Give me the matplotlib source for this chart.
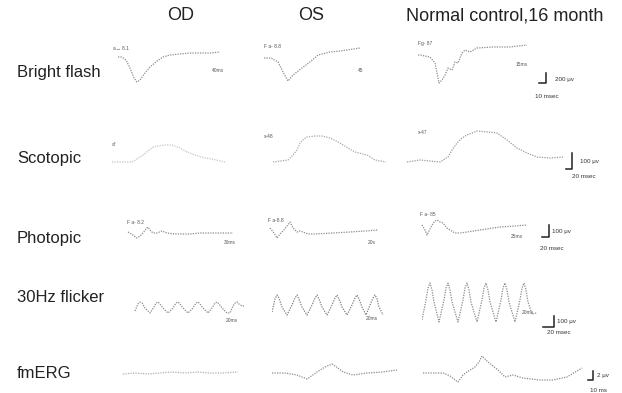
import matplotlib
matplotlib.use("Agg")
import matplotlib.pyplot as plt

# ERG traces: t in ms from trace start, amplitude relative to baseline
bright_od_t = [0, 4, 8, 12, 16, 19, 22, 27, 32, 39, 45, 52, 62, 72, 82, 92, 102]
bright_od_amp = [0, 0, -3, -11, -21, -25, -23, -16, -10, -4, 0, 2, 3, 4, 4, 4, 5]
bright_os_t = [0, 7, 14, 19, 24, 29, 38, 46, 54, 66, 76, 96]
bright_os_amp = [0, 0, -4, -14, -23, -17, -10, -4, 3, 6, 7, 10]
bright_nc_t = [0, 2, 12, 17, 21, 24, 27, 30, 34, 37, 40, 44, 47, 52, 59, 75, 92, 109]
bright_nc_amp = [0, 0, -2, -8, -28, -25, -20, -13, -15, -7, -8, 2, 5, 3, 7, 8, 8, 10]

scot_od_t = [0, 8, 20, 25, 31, 36, 41, 46, 53, 60, 68, 73, 83, 93, 100, 113]
scot_od_amp = [0, 0, 0, 3, 7, 11, 15, 16, 17, 17, 14, 11, 7, 4, 3, 0]
scot_os_t = [1, 16, 21, 25, 28, 32, 35, 43, 50, 58, 68, 76, 83, 95, 103, 114]
scot_os_amp = [0, 2, 7, 12, 19, 23, 25, 26, 26, 24, 19, 14, 10, 7, 2, 0]
scot_nc_t = [2, 15, 25, 35, 43, 47, 52, 57, 62, 72, 83, 92, 102, 112, 122, 132, 145, 158]
scot_nc_amp = [-1, 1, 0, -1, 4, 11, 18, 23, 26, 30, 29, 28, 21, 13, 8, 4, 3, 4]

phot_od_t = [1, 6, 10, 13, 16, 19, 21, 23, 26, 30, 35, 40, 48, 63, 73, 88, 106]
phot_od_amp = [1, -2, -5, -3, 0, 4, 6, 3, 0, 0, 2, 0, -1, -1, 0, 0, 0]
phot_os_t = [2, 6, 9, 12, 15, 19, 22, 25, 29, 32, 35, 40, 47, 65, 82, 97, 110]
phot_os_amp = [5, 0, -5, -1, 2, 7, 11, 5, 1, 2, 1, -1, -1, 0, 1, 2, 3]
phot_nc_t = [1, 4, 6, 9, 11, 14, 16, 19, 22, 26, 29, 34, 39, 46, 59, 79, 94, 106]
phot_nc_amp = [5, 0, -5, 1, 5, 9, 10, 8, 7, 2, 0, -3, -3, -2, 0, 3, 4, 5]

flick_od_t = [1, 4, 6, 8, 11, 16, 20, 22, 24, 26, 29, 34, 39, 42, 44, 46, 49, 54, 59, 62,
              64, 66, 69, 74, 78, 81, 83, 85, 88, 93, 96, 99, 101, 103, 105, 108, 110]
flick_od_amp = [2, 9, 11, 10, 5, 0, 6, 10, 11, 9, 5, 0, 5, 10, 11, 9, 5, 0, 5, 10,
                11, 9, 5, 0, 5, 10, 11, 9, 5, 0, 0, 7, 10, 11, 9, 7, 7]
flick_os_t = [0, 3, 5, 7, 10, 15, 20, 23, 25, 27, 30, 35, 40, 43, 45, 47, 50, 55, 60, 63,
              65, 67, 70, 75, 80, 83, 85, 87, 90, 94, 98, 101, 103, 105, 107, 111]
flick_os_amp = [3, 16, 20, 17, 8, 0, 10, 17, 20, 16, 8, 0, 10, 17, 20, 16, 8, 0, 10, 17,
                20, 16, 8, 0, 10, 17, 20, 16, 8, 0, 10, 17, 20, 16, 8, 0]
flick_nc_t = [0, 4, 6, 8, 10, 12, 17, 22, 24, 26, 28, 30, 36, 41, 43, 45, 47, 49, 55, 60,
              62, 64, 66, 68, 74, 79, 81, 83, 85, 87, 93, 98, 100, 102, 104, 106, 110, 115]
flick_nc_amp = [2, 22, 34, 39, 32, 20, 0, 22, 34, 39, 32, 20, 0, 22, 34, 39, 32, 20, 0, 22,
                34, 39, 32, 20, 0, 22, 34, 39, 32, 20, 0, 22, 34, 39, 32, 20, 8, 9]

fm_od_t = [0, 12, 25, 37, 49, 62, 75, 87, 99, 115]
fm_od_amp = [0, 1, 0, 1, 2, 1, 2, 1, 1, 2]
fm_os_t = [0, 13, 25, 35, 45, 53, 60, 66, 71, 81, 95, 111, 125]
fm_os_amp = [0, 0, -2, -6, 1, 6, 9, 5, 1, -2, 0, 1, 3]
fm_nc_t = [0, 20, 27, 35, 40, 44, 52, 56, 59, 62, 65, 70, 75, 82, 90, 100, 117, 130, 144, 159]
fm_nc_amp = [0, 0, -3, -9, -2, 1, 6, 11, 17, 14, 11, 7, 3, -4, -2, -5, -7, -7, -4, 5]

col_titles = ["OD", "OS", "Normal control,16 month"]
row_labels = ["Bright flash", "Scotopic", "Photopic", "30Hz flicker", "fmERG"]
bar_amp_labels = ["200 μv", "100 μv", "100 μv", "100 μv", "2 μv"]
bar_time_labels = ["10 msec", "20 msec", "20 msec", "20 msec", "10 ms"]

W, H = 622, 393
fig = plt.figure(figsize=(W / 100, H / 100), dpi=100)
plt.rcParams['font.family'] = ['Liberation Sans', 'DejaVu Sans']

# overlay in pixel coords for text and scale bars
ov = fig.add_axes([0, 0, 1, 1])
ov.set_xlim(0, W)
ov.set_ylim(H, 0)
ov.axis('off')


def trace_axes(x0, base_y, span=180, half=45):
    ax = fig.add_axes([x0 / W, 1 - (base_y + half) / H, span / W, 2 * half / H])
    ax.set_xlim(0, span)
    ax.set_ylim(-half, half)
    ax.axis('off')
    return ax


panels = [
    (118, 57, bright_od_t, bright_od_amp, '#8c8c8c'),
    (264, 58, bright_os_t, bright_os_amp, '#8c8c8c'),
    (418, 55, bright_nc_t, bright_nc_amp, '#8c8c8c'),
    (112, 162, scot_od_t, scot_od_amp, '#c4c4c4'),
    (272, 162, scot_os_t, scot_os_amp, '#a8a8a8'),
    (405, 161, scot_nc_t, scot_nc_amp, '#9a9a9a'),
    (127, 233, phot_od_t, phot_od_amp, '#8c8c8c'),
    (268, 233, phot_os_t, phot_os_amp, '#8c8c8c'),
    (421, 230, phot_nc_t, phot_nc_amp, '#8c8c8c'),
    (134, 313, flick_od_t, flick_od_amp, '#8c8c8c'),
    (272, 315, flick_os_t, flick_os_amp, '#808080'),
    (422, 322, flick_nc_t, flick_nc_amp, '#8c8c8c'),
    (123, 374, fm_od_t, fm_od_amp, '#b0b0b0'),
    (272, 373, fm_os_t, fm_os_amp, '#8c8c8c'),
    (423, 373, fm_nc_t, fm_nc_amp, '#8c8c8c'),
]

for x0, base, t, amp, c in panels:
    ax = trace_axes(x0, base)
    ax.plot(t, amp, color=c, lw=0.9, linestyle=(0, (1, 1)))

# column titles and row labels
for x, txt in zip([181, 311, 505], col_titles):
    ov.text(x, 16, txt, ha='center', va='center', fontsize=13, color='#222222')
for y, txt in zip([72, 158, 238, 298, 374], row_labels):
    ov.text(17, y, txt, ha='left', va='center', fontsize=12, color='#222222')

# scale bars: (x of vertical, top y, bottom y, left x of horizontal)
bars = [(546, 73, 83, 539), (572, 153, 169, 566), (549, 225, 237, 542),
        (554, 316, 327, 543), (593, 371, 380, 588)]
amp_pos = [(555, 80), (580, 161), (552, 232), (557, 321), (597, 376)]
time_pos = [(535, 96), (572, 176), (540, 248), (547, 333), (590, 390)]
for (bx, ty, by, hx), ap, tp, al, tl in zip(bars, amp_pos, time_pos,
                                             bar_amp_labels, bar_time_labels):
    ov.plot([hx, bx, bx], [by, by, ty], color='#222222', lw=1.1)
    ov.text(ap[0], ap[1], al, ha='left', va='center', fontsize=4.5, color='#333333')
    ov.text(tp[0], tp[1], tl, ha='left', va='center', fontsize=4.5, color='#333333')

# small marker labels printed on the traces
small = [(113, 48, "a→ 8.1"), (212, 71, "40ms"), (264, 46, "F a- 8.8"), (358, 70, "45"),
         (418, 44, "Fg- 87"), (516, 65, "15ms"),
         (112, 145, "a*"), (264, 137, "x-48"), (418, 133, "x-47"),
         (127, 223, "F a- 8.2"), (224, 243, "30ms"), (268, 221, "F a-8.8"), (368, 242, "20s"),
         (420, 215, "F a- 85"), (511, 237, "25ms"),
         (226, 320, "20ms"), (366, 318, "20ms"), (522, 313, "20ms")]
for x, y, txt in small:
    ov.text(x, y, txt, ha='left', va='center', fontsize=3.5, color='#555555')

fig.savefig('out.png', dpi=100, facecolor='white')
